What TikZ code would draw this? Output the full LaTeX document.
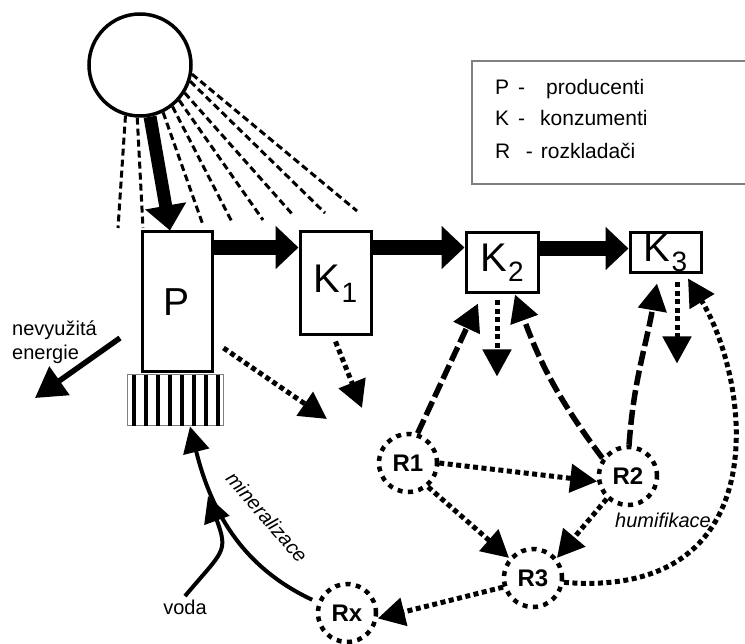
\documentclass[tikz,border=0pt]{standalone}
\usepackage{fontspec}
\setsansfont{Liberation Sans}
\usetikzlibrary{arrows.meta,calc}
\newcommand{\Ksub}[1]{K\kern1pt\raisebox{-10pt}{\fontsize{28}{28}\selectfont #1}}
\tikzset{
  every node/.style={font=\sffamily, text=black},
  box/.style={draw, line width=3pt, fill=white, inner sep=0pt, font=\sffamily\fontsize{40}{40}\selectfont},
  decomp/.style={circle, draw, line width=4.5pt, dash pattern=on 5pt off 5.5pt, minimum size=58pt, inner sep=0pt, font=\sffamily\bfseries\fontsize{24}{24}\selectfont},
  flow/.style={-{Triangle[length=23pt,width=42pt]}, line width=15pt},
  heat/.style={-{Triangle[length=27pt,width=28pt]}, line width=5pt, dash pattern=on 5pt off 3.5pt},
  feed/.style={-{Triangle[length=27pt,width=28pt]}, line width=5.5pt, dash pattern=on 15pt off 5pt},
  ray/.style={line width=3pt, dash pattern=on 7pt off 4pt},
  plain/.style={-{Triangle[length=26pt,width=26pt]}, line width=4pt},
  note/.style={font=\sffamily\fontsize{20}{24}\selectfont},
  process/.style={font=\sffamily\itshape\fontsize{20}{24}\selectfont},
  legendline/.style={font=\sffamily\fontsize{21}{21}\selectfont, inner sep=0pt, anchor=base west},
}
\begin{document}
\begin{tikzpicture}[x=1pt,y=1pt]
  \useasboundingbox (0,0) rectangle (745,-644);
  \clip (0,0) rectangle (745,-644);
  % sun and its rays
  \node[circle, draw, line width=3.5pt, minimum size=102pt, inner sep=0pt] (sun) at (140,-65) {};
  \foreach \a/\ex/\ey in {-106/118/228, -93/143/228, -64/203/225, -52/232/222, -42/263/220, -32/293/215, -18/325/213, -10/357/211}
    \draw[ray] (sun.\a) -- (\ex,-\ey);
  % producers and roots
  \node[box, minimum width=70pt, minimum height=140pt, font=\sffamily\fontsize{39}{39}\selectfont] (p) at (177,-302) {P};
  \node[draw=gray, line width=1pt, minimum width=96pt, minimum height=51pt, inner sep=0pt] (roots) at (175,-400.5) {};
  \foreach \i in {0,...,7}
    \fill ([xshift=5pt+\i*12pt]roots.south west) rectangle ++(4pt,51pt);
  % consumers
  \node[box, minimum width=71pt, minimum height=103pt] (k1) at (335.5,-283.5) {\Ksub{1}};
  \node[box, minimum width=72pt, minimum height=60pt] (k2) at (502,-263) {\Ksub{2}};
  \node[box, minimum width=71pt, minimum height=40pt] (k3) at (665.5,-253) {\Ksub{3}};
  % decomposers
  \node[decomp] (r1) at (408,-463) {R1};
  \node[decomp] (r2) at (628,-476) {R2};
  \node[decomp] (r3) at (533,-578) {R3};
  \node[decomp] (rx) at (347,-613) {Rx};
  % legend
  \draw[gray, line width=1.5pt] (472,-61) rectangle (760,-184);
  \node[legendline] (legp) at (495,-95) {P\hspace{9pt}-\hspace{21pt}producenti};
  \node[legendline] (legk) at (495,-126) {K\hspace{9pt}-\hspace{15pt}konzumenti};
  \node[legendline] (legr) at (495,-159) {R\hspace{15.5pt}-\hspace{8pt}rozkladači};
  % energy flow
  \draw[flow, line width=13pt, -{Triangle[length=25pt,width=40pt]}] (sun.-79) -- ([xshift=-7pt]p.north);
  \draw[flow] ([yshift=-17pt]p.north east) -- ([yshift=-17pt]k1.north west);
  \draw[flow] ([yshift=-17pt]k1.north east) -- ([yshift=-16pt]k2.north west);
  \draw[flow] ([yshift=-17pt]k2.north east) -- ([yshift=-17pt]k3.north west);
  % unused energy
  \node[note, anchor=north west, align=left, inner sep=0pt] (unused) at (12,-321) {nevyužitá\\energie};
  \coordinate (lossstart) at (120,-338);
  \coordinate (loss) at (35,-398);
  \draw[-{Triangle[length=30pt,width=34pt]}, line width=5.5pt] (lossstart) -- (loss);
  % losses by respiration
  \coordinate (pheat) at (327,-419);
  \coordinate (k1heat) at (362,-408);
  \coordinate (k2heat) at ([shift={(-5pt,-82pt)}]k2.south);
  \coordinate (k3heat) at ([shift={(11.5pt,-89pt)}]k3.south);
  \draw[heat] ([shift={(10pt,-46pt)}]p.east) -- (pheat);
  \draw[heat] ([yshift=-5pt]k1.south) -- (k1heat);
  \draw[heat] ([shift={(-5pt,-6pt)}]k2.south) -- (k2heat);
  \draw[heat] ([shift={(11.5pt,-8pt)}]k3.south) -- (k3heat);
  % decomposers feeding consumers
  \draw[feed] (r1.72) -- ([shift={(-24pt,-9pt)}]k2.south);
  \draw[feed] (r2.145) to[out=127,in=-70] ([xshift=13pt]k2.south);
  \draw[feed] (r2.88) to[out=86,in=-100] ([shift={(-8.5pt,-9pt)}]k3.south);
  % chain of decomposers
  \draw[heat] (r1.0) -- (r2.190);
  \draw[heat] (r1.-50) -- (r3.140);
  \draw[heat] (r2.-133) -- (r3.40);
  \draw[heat] (r3.197) -- (rx.-10);
  \draw[heat] (r3.-8) .. controls (780,-600) and (750,-380) .. ([shift={(22.5pt,-4pt)}]k3.south);
  \node[process] (humus) at (663,-520) {humifikace};
  % mineralisation back to the roots
  \draw[plain, shorten <=6pt] (rx.160) to[out=155,in=-76] ([xshift=15pt]roots.south);
  \node[process, rotate=-49] (mineral) at (267,-517) {mineralizace};
  \node[note] (voda) at (185,-607) {voda};
  \coordinate (join) at (208,-496);
  \draw[plain] (voda.north) to[out=50,in=-70,looseness=1.5] (join);
\end{tikzpicture}
\end{document}
